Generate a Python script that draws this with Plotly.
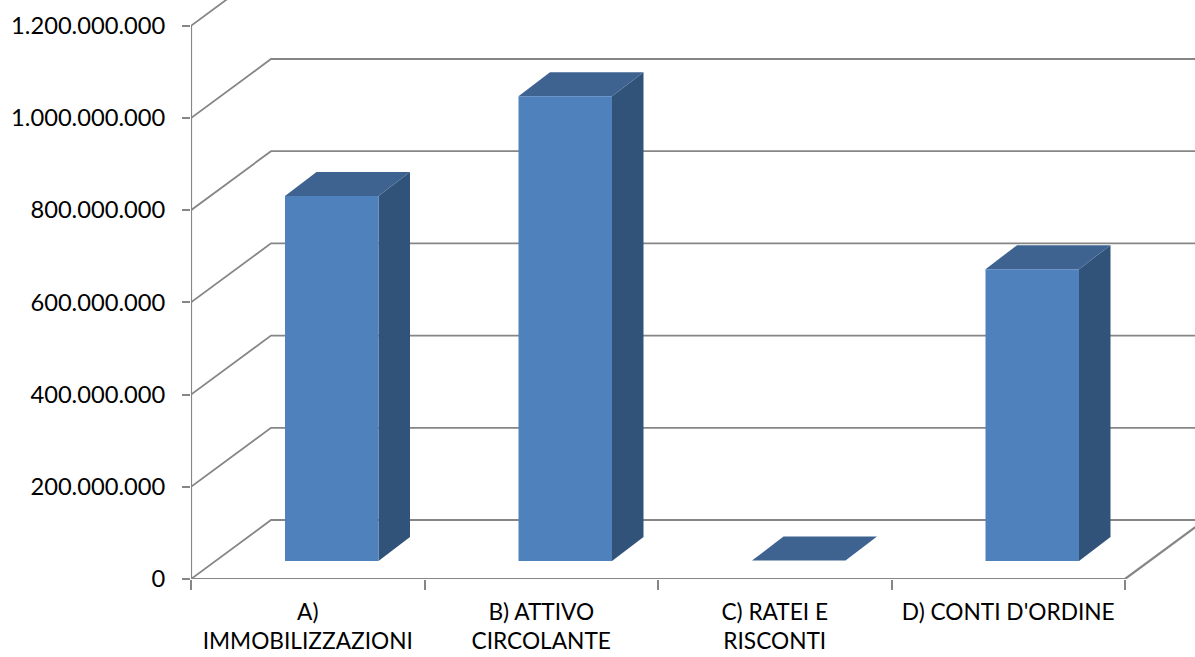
import plotly.graph_objects as go

categories = ["A)<br>IMMOBILIZZAZIONI", "B) ATTIVO<br>CIRCOLANTE", "C) RATEI E<br>RISCONTI", "D) CONTI D'ORDINE"]
values = [792000000, 1008000000, 1000000, 633000000]
y_ticks = [0, 200000000, 400000000, 600000000, 800000000, 1000000000, 1200000000]
y_labels = ["0", "200.000.000", "400.000.000", "600.000.000", "800.000.000", "1.000.000.000", "1.200.000.000"]

GRAY = "#868686"
FRONT = "#4F81BD"
SIDE = "#325379"
TOP = "#3E6391"
FONT = "Lato"

# oblique projection, in axis units
PX_X = 233.5
PX_Y = 92.2 / 200000000
WALL_DX = 80 / PX_X
WALL_DY = 59 / PX_Y
BAR_W = 93.5 / PX_X
BAR_DX = 31.5 / PX_X
BAR_DY = 24 / PX_Y
BAR_BASE = 18 / PX_Y
n = len(categories)
X_MAX = (1195 - 191) / PX_X
Y_MAX = 579 / PX_Y

fig = go.Figure()

def line(xs, ys, width=1.8):
    fig.add_trace(go.Scatter(x=xs, y=ys, mode="lines", cliponaxis=False, hoverinfo="skip",
                             line=dict(color=GRAY, width=width), showlegend=False))

def poly(xs, ys, color):
    fig.add_trace(go.Scatter(x=xs, y=ys, mode="lines", fill="toself", fillcolor=color,
                             line=dict(width=0, color=color), cliponaxis=False,
                             hoverinfo="skip", showlegend=False))

# walls and floor
gx, gy = [], []
for t in y_ticks:
    gx += [0, WALL_DX, X_MAX + 0.2, None]
    gy += [t, t + WALL_DY, t + WALL_DY, None]
line(gx, gy)
line([0, 0], [0, y_ticks[-1]], 2.2)
line([0, n, n + WALL_DX], [0, 0, WALL_DY], 2.2)

# columns
for i, v in enumerate(values):
    x0 = i + 0.5 - BAR_W / 2 + 0.3 * WALL_DX
    x1 = x0 + BAR_W
    top = BAR_BASE + v
    poly([x1, x1 + BAR_DX, x1 + BAR_DX, x1, x1],
         [BAR_BASE, BAR_BASE + BAR_DY, top + BAR_DY, top, BAR_BASE], SIDE)
    poly([x0, x1, x1 + BAR_DX, x0 + BAR_DX, x0], [top, top, top + BAR_DY, top + BAR_DY, top], TOP)
    poly([x0, x1, x1, x0, x0], [BAR_BASE, BAR_BASE, top, top, BAR_BASE], FRONT)

fig.update_layout(
    width=1195, height=657, paper_bgcolor="white", plot_bgcolor="white",
    margin=dict(l=191, r=0, t=0, b=78), showlegend=False, hovermode=False,
    font=dict(family=FONT, color="#000000", size=23),
    xaxis=dict(range=[0, X_MAX], showgrid=False, zeroline=False, showline=False,
               tickmode="array", tickvals=[i + 0.5 for i in range(n)], ticktext=categories,
               ticks="", ticklabelstandoff=17, tickangle=0, tickfont=dict(size=22.7),
               minor=dict(tickmode="array", tickvals=list(range(n + 1)), ticks="outside",
                          ticklen=10, tickwidth=1.8, tickcolor=GRAY, showgrid=False)),
    yaxis=dict(range=[0, Y_MAX], showgrid=False, zeroline=False, showline=False,
               tickmode="array", tickvals=y_ticks, ticktext=y_labels, tickfont=dict(size=23.7),
               ticks="outside", ticklen=8, tickwidth=1.8, tickcolor=GRAY, ticklabelstandoff=12),
)

fig.write_html("out.html", config={"displayModeBar": False},
               post_script="document.body.style.margin='0';document.body.style.overflow='hidden';")
